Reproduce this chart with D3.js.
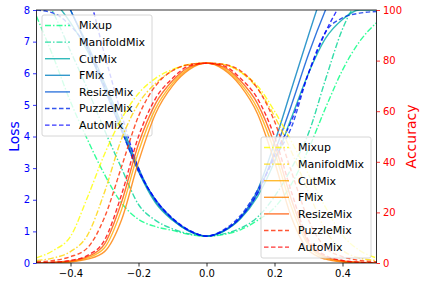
<!DOCTYPE html>
<html>
<head>
<meta charset="utf-8">
<script src="https://cdn.jsdelivr.net/npm/d3@7"></script>
<style>
  body { margin: 0; background: #fff; }
  svg { font-family: "DejaVu Sans", sans-serif; }
</style>
</head>
<body>
<div id="chart"></div>
<script>
// x positions (mixing ratio offset)
const xs = [-0.5, -0.45, -0.4, -0.35, -0.3, -0.25, -0.2, -0.15, -0.1, -0.05, 0,
            0.05, 0.1, 0.15, 0.2, 0.25, 0.3, 0.35, 0.4, 0.45, 0.5];

const methods = ["Mixup", "ManifoldMix", "CutMix", "FMix", "ResizeMix", "PuzzleMix", "AutoMix"];

// loss curves (left axis)
const mixupLoss    = [7.8, 6.5, 5.1, 3.9, 2.8, 1.9, 1.38, 1.15, 1.03, 0.9, 0.85, 0.9, 1.05, 1.35, 1.75, 2.5, 3.6, 4.9, 6.1, 7.0, 7.6];
const manifoldLoss = [8.8, 7.9, 6.7, 5.5, 4.2, 3.0, 1.85, 1.35, 1.08, 0.92, 0.85, 0.92, 1.1, 1.45, 2.1, 3.0, 4.1, 5.8, 7.4, 8.4, 9.0];
const cutmixLoss   = [8.8, 8.3, 7.6, 6.7, 5.6, 4.3, 2.9, 1.9, 1.35, 1.0, 0.85, 1.0, 1.4, 2.1, 3.2, 4.6, 6.0, 7.1, 7.7, 8.0, 8.0];
const fmixLoss     = [10.5, 9.3, 8.0, 6.9, 5.7, 4.4, 3.0, 1.95, 1.38, 1.0, 0.85, 1.0, 1.45, 2.3, 3.8, 5.5, 7.2, 8.8, 10, 10.8, 11];
const resizeLoss   = [10.2, 9.1, 8.0, 6.8, 5.5, 4.2, 2.9, 2.0, 1.4, 1.02, 0.85, 1.02, 1.42, 2.2, 3.5, 5.0, 6.6, 8.0, 9.2, 10, 10.5];
const puzzleLoss   = [8.0, 7.9, 7.5, 6.8, 5.6, 4.2, 2.9, 2.0, 1.42, 1.03, 0.85, 1.05, 1.5, 2.3, 3.3, 4.3, 6.0, 7.3, 7.75, 7.9, 7.95];
const autoLoss     = [10.5, 9.8, 9.6, 8.6, 6.6, 4.7, 3.0, 2.0, 1.4, 1.02, 0.85, 1.02, 1.45, 2.2, 3.4, 4.5, 6.0, 7.3, 8.3, 9.2, 9.8];

// accuracy curves (right axis)
const mixupAcc    = [2, 5, 10.5, 26, 43, 57, 67, 73, 76.5, 78.5, 79, 78.5, 75.5, 70, 60, 48, 35, 22, 11, 5, 2];
const manifoldAcc = [1, 2, 4.5, 11, 28, 49, 63, 71, 76, 78.5, 79, 78.5, 75.5, 69, 58, 44, 28, 13, 5, 2, 1];
const cutmixAcc   = [0, 0.2, 0.6, 2, 6, 21, 44, 61, 71, 77, 79, 77, 71, 61, 44, 22, 7, 2, 0.6, 0.2, 0];
const fmixAcc     = [0, 0.1, 0.4, 1.5, 4.5, 17, 40, 59, 70, 76.5, 79, 76.5, 70, 59, 40, 18, 5, 1.5, 0.4, 0.1, 0];
const resizeAcc   = [0, 0.3, 0.8, 2.5, 7.5, 24, 47, 63, 72, 77.5, 79, 77.5, 72, 63, 47, 25, 8, 2.5, 0.8, 0.3, 0];
const puzzleAcc   = [0.5, 1, 2.5, 6, 18, 38, 58, 70, 76, 78.5, 79, 78.5, 76, 69, 56, 36, 17, 6, 2.5, 1, 0.5];
const autoAcc     = [0, 0.3, 1, 3, 9, 27, 50, 65, 73, 78, 79, 78, 73, 65, 50, 28, 9, 3, 1, 0.3, 0];

const lossTicks = [0, 1, 2, 3, 4, 5, 6, 7, 8];
const accTicks = [0, 20, 40, 60, 80, 100];
const xTicks = [-0.4, -0.2, 0.0, 0.2, 0.4];

const lossColors = ["#00ff80", "#00d495", "#00aaaa", "#0080bf", "#0055d5", "#002bea", "#0000ff"];
const accColors  = ["#ffff00", "#ffd400", "#ffaa00", "#ff8000", "#ff5500", "#ff2b00", "#ff0000"];
const dashes = ["6,2,1.5,2", "6,2,1.5,2", null, null, null, "4.5,2.5", "4.5,2.5"];

const lossData = [mixupLoss, manifoldLoss, cutmixLoss, fmixLoss, resizeLoss, puzzleLoss, autoLoss];
const accData = [mixupAcc, manifoldAcc, cutmixAcc, fmixAcc, resizeAcc, puzzleAcc, autoAcc];

const W = 425, H = 286;
const m = {left: 36.5, right: 376.5, top: 10, bottom: 263};

const svg = d3.select("#chart").append("svg")
    .attr("width", W).attr("height", H);

const x = d3.scaleLinear().domain([-0.5, 0.5]).range([m.left, m.right]);
const yL = d3.scaleLinear().domain([0, 8]).range([m.bottom, m.top]);
const yR = d3.scaleLinear().domain([0, 100]).range([m.bottom, m.top]);

svg.append("clipPath").attr("id", "plot")
    .append("rect").attr("x", m.left).attr("y", m.top)
    .attr("width", m.right - m.left).attr("height", m.bottom - m.top);

function drawLines(data, colors, yScale) {
    const g = svg.append("g").attr("clip-path", "url(#plot)");
    data.forEach((vals, i) => {
        const line = d3.line()
            .x((d, j) => x(xs[j]))
            .y(d => yScale(d))
            .curve(d3.curveMonotoneX);
        g.append("path")
            .datum(vals)
            .attr("fill", "none")
            .attr("stroke", colors[i])
            .attr("stroke-opacity", 0.8)
            .attr("stroke-width", 1.4)
            .attr("stroke-dasharray", dashes[i])
            .attr("d", line);
    });
}

function drawLegend(lx, ly, colors) {
    const g = svg.append("g");
    g.append("rect")
        .attr("x", lx).attr("y", ly)
        .attr("width", 110).attr("height", 121)
        .attr("rx", 2)
        .attr("fill", "#fff").attr("fill-opacity", 0.8)
        .attr("stroke", "#cccccc").attr("stroke-width", 0.8);
    methods.forEach((name, i) => {
        const cy = ly + 10.5 + i * 16.6;
        g.append("line")
            .attr("x1", lx + 3).attr("x2", lx + 28)
            .attr("y1", cy).attr("y2", cy)
            .attr("stroke", colors[i])
            .attr("stroke-opacity", 0.8)
            .attr("stroke-width", 1.4)
            .attr("stroke-dasharray", dashes[i]);
        g.append("text")
            .attr("x", lx + 37).attr("y", cy)
            .attr("dy", "0.36em")
            .attr("font-size", 11)
            .attr("fill", "#000")
            .text(name);
    });
}

// loss lines, their legend, then accuracy lines on top (twin axis)
drawLines(lossData, lossColors, yL);
drawLegend(42, 15, lossColors);
drawLines(accData, accColors, yR);
drawLegend(261, 137, accColors);

// frame
svg.append("rect")
    .attr("x", m.left).attr("y", m.top)
    .attr("width", m.right - m.left).attr("height", m.bottom - m.top)
    .attr("fill", "none").attr("stroke", "#000").attr("stroke-width", 0.8);

// axes
const gx = svg.append("g")
    .attr("transform", `translate(0,${m.bottom})`)
    .call(d3.axisBottom(x).tickValues(xTicks).tickFormat(d3.format(".1f")).tickSize(3.5).tickPadding(3));

const gl = svg.append("g")
    .attr("transform", `translate(${m.left},0)`)
    .call(d3.axisLeft(yL).tickValues(lossTicks).tickFormat(d3.format("d")).tickSize(3.5).tickPadding(3));

const gr = svg.append("g")
    .attr("transform", `translate(${m.right},0)`)
    .call(d3.axisRight(yR).tickValues(accTicks).tickFormat(d3.format("d")).tickSize(3.5).tickPadding(3));

[gx, gl, gr].forEach(g => {
    g.select(".domain").remove();
    g.selectAll("text").attr("font-size", 10).attr("font-family", "DejaVu Sans, sans-serif");
    g.selectAll("line").attr("stroke-width", 0.8);
});
gx.selectAll("text").attr("fill", "#000");
gx.selectAll("line").attr("stroke", "#000");
gl.selectAll("text").attr("fill", "#0000ff");
gl.selectAll("line").attr("stroke", "#0000ff");
gr.selectAll("text").attr("fill", "#ff0000");
gr.selectAll("line").attr("stroke", "#ff0000");

// axis labels
svg.append("text")
    .attr("transform", `translate(19,${(m.top + m.bottom) / 2}) rotate(-90)`)
    .attr("text-anchor", "middle")
    .attr("font-size", 14)
    .attr("fill", "#0000ff")
    .text("Loss");

svg.append("text")
    .attr("transform", `translate(416,${(m.top + m.bottom) / 2}) rotate(-90)`)
    .attr("text-anchor", "middle")
    .attr("font-size", 14)
    .attr("fill", "#ff0000")
    .text("Accuracy");
</script>
</body>
</html>
